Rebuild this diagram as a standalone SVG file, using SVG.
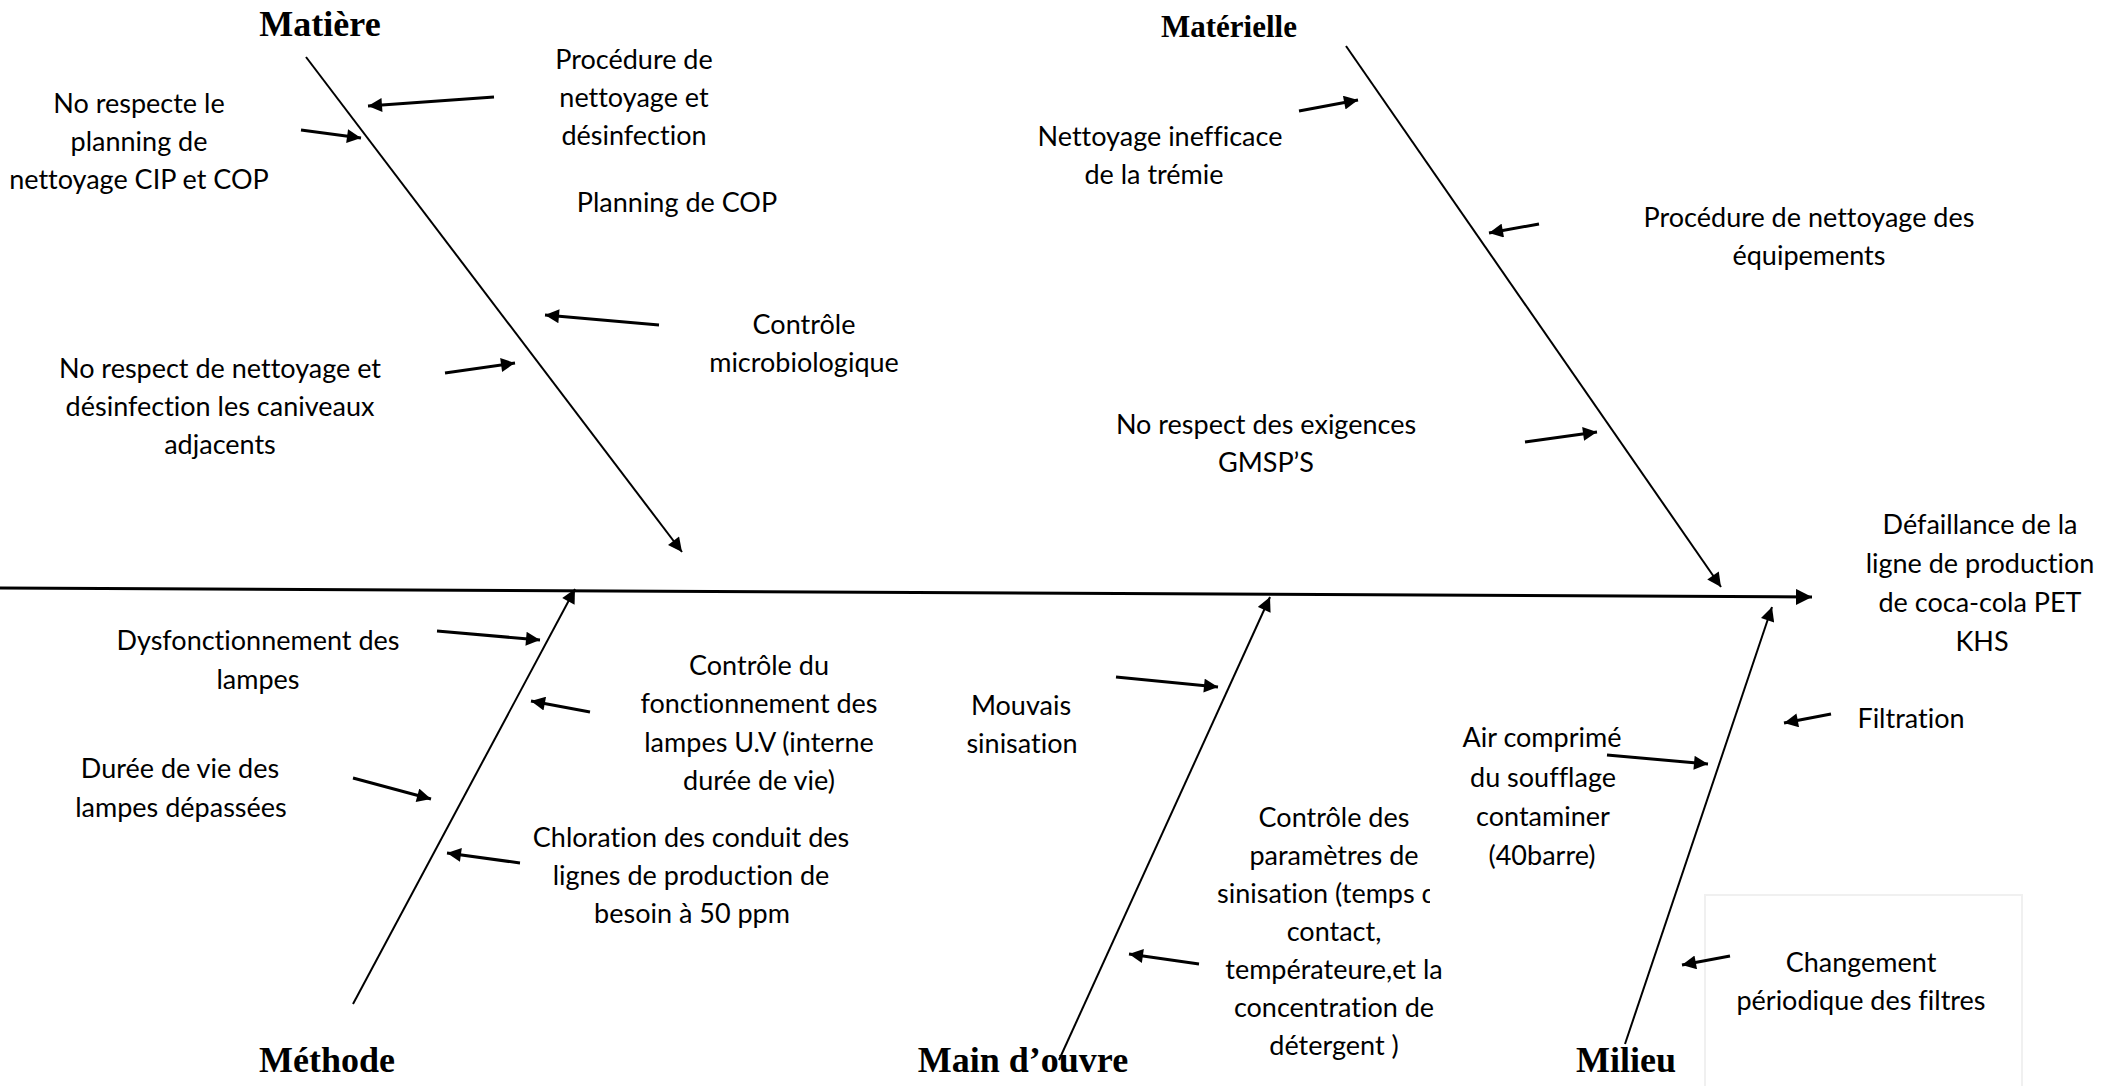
<svg xmlns="http://www.w3.org/2000/svg" width="2116" height="1086" viewBox="0 0 2116 1086">
<defs>
<style>
.t{font-family:Lato,"Liberation Sans",sans-serif;font-size:27px;fill:#000;text-anchor:middle;font-variant-ligatures:none;font-feature-settings:"liga" 0}
.h{font-family:"Liberation Serif","Times New Roman",serif;font-weight:bold;fill:#000;text-anchor:middle}
.br{stroke:#000;stroke-width:2;fill:none;marker-end:url(#ah)}
.sm{stroke:#000;stroke-width:3;fill:none;marker-end:url(#ah)}
.sp{stroke:#000;stroke-width:3;fill:none;marker-end:url(#ahs)}
</style>
<marker id="ah" viewBox="0 0 10 10" refX="10" refY="5" markerUnits="userSpaceOnUse" markerWidth="15" markerHeight="14" orient="auto">
<path d="M0,0 L10,5 L0,10 z" fill="#000"/>
</marker>
<marker id="ahs" viewBox="0 0 10 10" refX="10" refY="5" markerUnits="userSpaceOnUse" markerWidth="16" markerHeight="16" orient="auto">
<path d="M0,0 L10,5 L0,10 z" fill="#000"/>
</marker>
<clipPath id="clipTemps"><rect x="1150" y="870" width="280" height="50"/></clipPath>
</defs>
<rect width="2116" height="1086" fill="#fff"/>

<rect id="faint-box" x="1705" y="895" width="317" height="200" fill="none" stroke="#f0f0f0" stroke-width="2"/>

<g id="connectors">
<line class="sp" x1="0" y1="588" x2="1812" y2="597"/>
<line class="br" x1="306" y1="57" x2="682" y2="552"/>
<line class="br" x1="1346" y1="46" x2="1721" y2="587"/>
<line class="br" x1="353" y1="1004" x2="575" y2="589"/>
<line class="br" x1="1059" y1="1060" x2="1270" y2="597"/>
<line class="br" x1="1625" y1="1044" x2="1772" y2="607"/>
<line class="sm" x1="494" y1="97" x2="368" y2="106"/>
<line class="sm" x1="301" y1="130" x2="361" y2="138"/>
<line class="sm" x1="659" y1="325" x2="545" y2="315"/>
<line class="sm" x1="445" y1="373" x2="515" y2="363"/>
<line class="sm" x1="1299" y1="111" x2="1358" y2="100"/>
<line class="sm" x1="1539" y1="224" x2="1489" y2="233"/>
<line class="sm" x1="1525" y1="442" x2="1597" y2="432"/>
<line class="sm" x1="437" y1="631" x2="540" y2="640"/>
<line class="sm" x1="590" y1="712" x2="531" y2="701"/>
<line class="sm" x1="353" y1="778" x2="431" y2="799"/>
<line class="sm" x1="520" y1="863" x2="447" y2="853"/>
<line class="sm" x1="1116" y1="677" x2="1218" y2="687"/>
<line class="sm" x1="1199" y1="964" x2="1129" y2="954"/>
<line class="sm" x1="1831" y1="714" x2="1784" y2="723"/>
<line class="sm" x1="1607" y1="755" x2="1708" y2="764"/>
<line class="sm" x1="1730" y1="956" x2="1682" y2="965"/>
</g>

<g id="matiere"><text class="h" x="320" y="36" font-size="36">Matière</text></g>
<g id="materielle"><text class="h" x="1229" y="37" font-size="31">Matérielle</text></g>
<g id="methode"><text class="h" x="327" y="1072" font-size="36">Méthode</text></g>
<g id="main-oeuvre"><text class="h" x="1023" y="1072" font-size="36">Main d’ouvre</text></g>
<g id="milieu"><text class="h" x="1626" y="1072" font-size="36">Milieu</text></g>

<g id="effet">
<text class="t" x="1980" y="534">Défaillance de la</text>
<text class="t" x="1980" y="573">ligne de production</text>
<text class="t" x="1980" y="612">de coca-cola PET</text>
<text class="t" x="1982" y="651">KHS</text>
</g>

<g id="c-procedure-nettoyage">
<text class="t" x="634" y="69">Procédure de</text>
<text class="t" x="634" y="107">nettoyage et</text>
<text class="t" x="634" y="145">désinfection</text>
</g>
<g id="c-planning-cip">
<text class="t" x="139" y="113">No respecte le</text>
<text class="t" x="139" y="151">planning de</text>
<text class="t" x="139" y="189">nettoyage CIP et COP</text>
</g>
<g id="c-planning-cop"><text class="t" x="677" y="212">Planning de COP</text></g>
<g id="c-controle-micro">
<text class="t" x="804" y="334">Contrôle</text>
<text class="t" x="804" y="372">microbiologique</text>
</g>
<g id="c-caniveaux">
<text class="t" x="220" y="378">No respect de nettoyage et</text>
<text class="t" x="220" y="416">désinfection les caniveaux</text>
<text class="t" x="220" y="454">adjacents</text>
</g>

<g id="c-tremie">
<text class="t" x="1160" y="146">Nettoyage inefficace</text>
<text class="t" x="1154" y="184">de la trémie</text>
</g>
<g id="c-procedure-equip">
<text class="t" x="1809" y="227">Procédure de nettoyage des</text>
<text class="t" x="1809" y="265">équipements</text>
</g>
<g id="c-gmsp">
<text class="t" x="1266" y="434">No respect des exigences</text>
<text class="t" x="1266" y="472">GMSP’S</text>
</g>

<g id="c-dysfonctionnement">
<text class="t" x="258" y="650">Dysfonctionnement des</text>
<text class="t" x="258" y="689">lampes</text>
</g>
<g id="c-controle-lampes">
<text class="t" x="759" y="675">Contrôle du</text>
<text class="t" x="759" y="713">fonctionnement des</text>
<text class="t" x="759" y="752">lampes U.V (interne</text>
<text class="t" x="759" y="790">durée de vie)</text>
</g>
<g id="c-duree-vie">
<text class="t" x="180" y="778">Durée de vie des</text>
<text class="t" x="181" y="817">lampes dépassées</text>
</g>
<g id="c-chloration">
<text class="t" x="691" y="847">Chloration des conduit des</text>
<text class="t" x="691" y="885">lignes de production de</text>
<text class="t" x="692" y="923">besoin à 50 ppm</text>
</g>

<g id="c-mouvais">
<text class="t" x="1021" y="715">Mouvais</text>
<text class="t" x="1022" y="753">sinisation</text>
</g>
<g id="c-controle-param">
<text class="t" x="1334" y="827">Contrôle des</text>
<text class="t" x="1334" y="865">paramètres de</text>
<text class="t" x="1334" y="903" clip-path="url(#clipTemps)">sinisation (temps de</text>
<text class="t" x="1334" y="941">contact,</text>
<text class="t" x="1334" y="979">températeure,et la</text>
<text class="t" x="1334" y="1017">concentration de</text>
<text class="t" x="1334" y="1055">détergent )</text>
</g>

<g id="c-filtration"><text class="t" x="1911" y="728">Filtration</text></g>
<g id="c-air">
<text class="t" x="1542" y="747">Air comprimé</text>
<text class="t" x="1543" y="787">du soufflage</text>
<text class="t" x="1543" y="826">contaminer</text>
<text class="t" x="1542" y="865">(40barre)</text>
</g>
<g id="c-changement">
<text class="t" x="1861" y="972">Changement</text>
<text class="t" x="1861" y="1010">périodique des filtres</text>
</g>
</svg>
